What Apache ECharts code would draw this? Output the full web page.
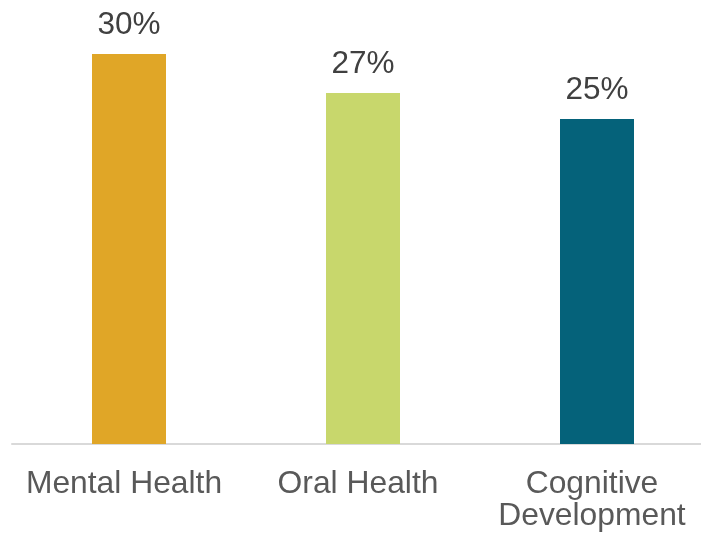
<!DOCTYPE html>
<html>
<head>
<meta charset="utf-8">
<script src="https://cdn.jsdelivr.net/npm/echarts@6/dist/echarts.min.js"></script>
<style>html,body{margin:0;padding:0;background:#fff;}#c{width:701px;height:533px;}</style>
</head>
<body>
<div id="c"></div>
<script>
var categories = ['Mental Health', 'Oral Health', 'Cognitive\nDevelopment'];
var values = [30, 27, 25];
var colors = ['#E0A627', '#C8D76C', '#05627A'];

var chart = echarts.init(document.getElementById('c'));
chart.setOption({
  animation: false,
  grid: { left: 12, right: -13, top: 54, bottom: 89, containLabel: false, outerBoundsMode: 'none' },
  xAxis: {
    type: 'category',
    data: categories,
    axisLine: { lineStyle: { color: '#D9D9D9', width: 2 } },
    axisTick: { show: false },
    axisLabel: { fontFamily: 'Liberation Sans, Arial', fontSize: 31.8, color: '#595959', margin: 24, lineHeight: 32, interval: 0, padding: [0, 10, 0, 0] }
  },
  yAxis: { type: 'value', min: 0, max: 30, show: false, splitLine: { show: false } },
  series: [{
    type: 'bar',
    barWidth: 74,
    data: values.map(function (v, i) { return { value: v, itemStyle: { color: colors[i] } }; }),
    label: {
      show: true, position: 'top', distance: 13,
      formatter: '{c}%',
      fontFamily: 'Liberation Sans, Arial', fontSize: 31.5, color: '#404040'
    }
  }]
});
</script>
</body>
</html>
